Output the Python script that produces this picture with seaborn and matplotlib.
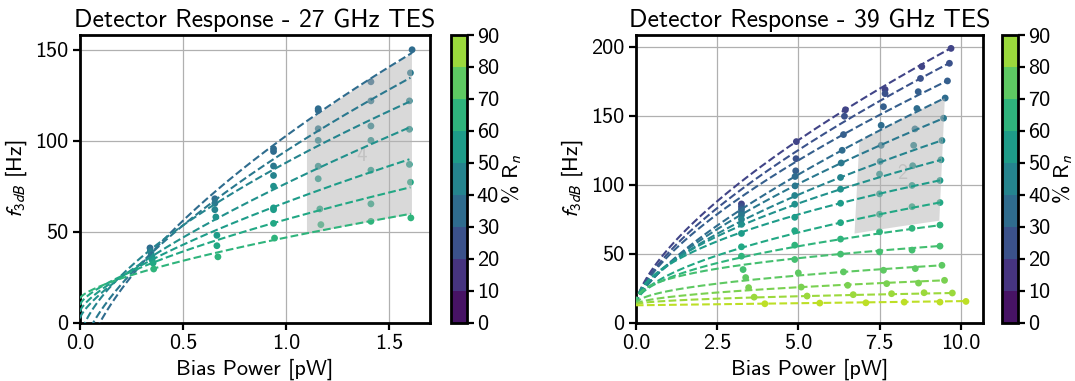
import numpy as np
import pandas as pd
import matplotlib
matplotlib.use("Agg")
import matplotlib.pyplot as plt
import seaborn as sns
from matplotlib.colors import ListedColormap, BoundaryNorm
from matplotlib.ticker import MultipleLocator
import matplotlib.cm as cm

# ------------------------------------------------------------------ data
# 27 GHz TES : %Rn levels, measured points, power-law fit parameters
rn_27 = [35, 40, 45, 50, 55, 60, 65]
p_27 = [
    [0.340, 0.655, 0.940, 0.940, 1.157, 1.157, 1.413, 1.613],
    [0.342, 0.655, 0.940, 1.157, 1.413, 1.605],
    [0.345, 0.655, 0.940, 1.157, 1.413, 1.600],
    [0.350, 0.660, 0.940, 1.157, 1.413, 1.600],
    [0.350, 0.665, 0.940, 0.940, 1.157, 1.413, 1.600],
    [0.355, 0.665, 0.940, 1.165, 1.413, 1.605],
    [0.358, 0.670, 0.945, 1.170, 1.413, 1.607],
]
f_27 = [
    [41.0, 68.0, 95.5, 94.0, 116.5, 117.5, 132.3, 149.9],
    [39.5, 65.5, 86.0, 106.5, 121.8, 137.2],
    [38.0, 62.0, 80.8, 100.1, 108.0, 121.8],
    [36.4, 58.0, 74.9, 85.9, 100.1, 106.2],
    [34.5, 47.9, 63.0, 62.0, 79.0, 83.7, 86.9],
    [32.7, 42.2, 54.5, 62.4, 65.2, 77.1],
    [29.4, 36.1, 46.4, 53.8, 55.6, 57.5],
]
fit_a_27 = [135.0, 114.0, 97.3, 74.1, 60.0, 47.0, 33.4]
fit_b_27 = [0.61, 0.64, 0.63, 0.739, 0.708, 0.676, 0.695]
fit_c_27 = [-32.5, -19.8, -9.5, 2.3, 6.0, 9.6, 13.3]
shade_27_range = [1.10, 1.61]          # bias power span of shaded region
shade_27_series = [0, 6]               # bounded by fits of these series
label_27 = ("4", 1.367, 92.0)

# 39 GHz TES
rn_39 = [20, 25, 30, 35, 40, 45, 50, 55, 60, 65, 70, 75, 80, 85, 90]
p_39 = [
    [3.25, 4.94, 6.45, 7.67, 8.80, 9.70],
    [3.25, 4.93, 6.42, 7.67, 8.76, 9.65],
    [3.25, 4.92, 6.39, 7.62, 8.69, 9.59],
    [3.25, 4.90, 6.35, 7.55, 8.65, 9.52],
    [3.25, 4.90, 6.32, 7.55, 8.59, 9.47],
    [3.25, 4.89, 6.30, 7.52, 8.55, 9.42],
    [3.25, 4.89, 6.30, 7.50, 8.52, 9.39],
    [3.25, 4.89, 6.30, 7.50, 8.50, 9.36],
    [3.25, 4.89, 6.30, 7.50, 8.50, 9.36],
    [3.25, 4.89, 6.30, 7.50, 8.50, 9.36],
    [3.30, 4.89, 6.30, 7.50, 8.50, 9.36],
    [3.38, 5.00, 6.39, 7.62, 8.60, 9.42],
    [3.47, 5.09, 6.52, 7.72, 8.70, 9.50],
    [3.64, 5.27, 6.69, 7.87, 8.87, 9.74],
    [3.97, 5.66, 7.08, 8.26, 9.36, 10.16],
]
f_39 = [
    [86.0, 131.2, 154.3, 169.0, 185.6, 198.8],
    [84.0, 118.8, 149.6, 166.0, 177.0, 188.0],
    [82.0, 110.0, 136.3, 156.5, 167.4, 175.2],
    [80.0, 105.9, 124.9, 143.0, 155.2, 162.8],
    [78.0, 99.1, 115.7, 128.5, 140.4, 148.2],
    [74.8, 92.1, 105.2, 116.8, 128.5, 132.0],
    [71.2, 85.8, 96.7, 107.6, 113.7, 118.0],
    [64.6, 76.3, 86.5, 93.3, 99.4, 103.0],
    [54.9, 66.6, 72.4, 78.5, 84.0, 87.0],
    [48.1, 56.1, 60.5, 65.8, 68.3, 70.7],
    [38.4, 45.7, 49.6, 51.2, 52.5, 55.4],
    [32.6, 36.0, 36.7, 37.9, 39.1, 41.5],
    [25.3, 25.7, 27.0, 28.2, 28.6, 30.6],
    [18.4, 19.2, 20.2, 20.9, 21.6, 21.4],
    [13.6, 14.1, 14.3, 14.8, 14.8, 15.3],
]
fit_a_39 = [40.5, 37.5, 35.3, 29.6, 29.3, 28.7, 29.4, 28.7, 21.4, 19.2, 18.5, 9.82, 5.42, 2.73, 0.30]
fit_b_39 = [0.671, 0.68, 0.675, 0.72, 0.68, 0.6345, 0.568, 0.5115, 0.555, 0.491, 0.372, 0.475, 0.523, 0.494, 1.0]
fit_c_39 = [13.0] * 14 + [12.5]
shade_39_top = [6.88, 9.51]            # span along the upper bounding fit
shade_39_bottom = [6.73, 9.34]         # span along the lower bounding fit
shade_39_series = [3, 9, 8]            # top fit, lower fit, neighbour fit
shade_39_blend = 0.2
label_39 = ("2", 8.21, 108.0)

cbar_levels = list(range(0, 100, 10))

# ------------------------------------------------------------------ style
sns.set_theme(style="whitegrid")
plt.rcParams.update({
    "font.family": ["cmss10", "DejaVu Sans"],
    "mathtext.fontset": "stixsans",
    "axes.unicode_minus": False,
    "axes.edgecolor": "black",
    "axes.linewidth": 2.0,
    "axes.facecolor": "white",
    "grid.color": "#b0b0b0",
    "grid.linewidth": 0.9,
    "xtick.bottom": True,
    "ytick.left": True,
    "xtick.direction": "out",
    "ytick.direction": "out",
    "xtick.major.size": 5,
    "ytick.major.size": 5,
    "xtick.major.width": 1.6,
    "ytick.major.width": 1.6,
    "xtick.color": "black",
    "ytick.color": "black",
    "xtick.labelsize": 16,
    "ytick.labelsize": 16,
    "axes.labelsize": 16,
    "axes.titlesize": 18.5,
    "text.color": "black",
    "axes.labelcolor": "black",
})

def power_fit(P, a, b, c):
    return c + a * np.power(P, b)

def build_frames(rn, ps, fs, fa, fb, fc):
    pts, fits = [], []
    for r, p, f, a, b, c in zip(rn, ps, fs, fa, fb, fc):
        pts.append(pd.DataFrame({"P": p, "f": f, "Rn": r}))
        grid = np.linspace(0.0, max(p), 300)
        fits.append(pd.DataFrame({"P": grid, "f": power_fit(grid, a, b, c), "Rn": r}))
    return pd.concat(pts, ignore_index=True), pd.concat(fits, ignore_index=True)

fig = plt.figure(figsize=(10.75, 3.81), dpi=100)
ax1 = fig.add_axes([0.0744, 0.1535, 0.3256, 0.7546])
cax1 = fig.add_axes([0.4195, 0.1535, 0.0149, 0.7546])
ax2 = fig.add_axes([0.5915, 0.1535, 0.3228, 0.7546])
cax2 = fig.add_axes([0.9325, 0.1535, 0.0149, 0.7546])

shade_kw = dict(color="#b5b5b5", alpha=0.5, lw=0, zorder=2.5)

def draw(ax, pts, fits):
    sns.scatterplot(data=pts, x="P", y="f", hue="Rn", palette="viridis",
                    hue_norm=(0, 100), s=24, linewidth=0, legend=False,
                    ax=ax, zorder=2)
    sns.lineplot(data=fits, x="P", y="f", hue="Rn", palette="viridis",
                 hue_norm=(0, 100), estimator=None, sort=False, legend=False,
                 linestyle="--", linewidth=1.5, ax=ax, zorder=3)

# ---- left panel
pts27, fits27 = build_frames(rn_27, p_27, f_27, fit_a_27, fit_b_27, fit_c_27)
draw(ax1, pts27, fits27)
g = np.linspace(shade_27_range[0], shade_27_range[1], 100)
i_t, i_b = shade_27_series
ax1.fill_between(g,
                 power_fit(g, fit_a_27[i_b], fit_b_27[i_b], fit_c_27[i_b]),
                 power_fit(g, fit_a_27[i_t], fit_b_27[i_t], fit_c_27[i_t]),
                 **shade_kw)
ax1.text(label_27[1], label_27[2], label_27[0], color="#c2c2c2", fontsize=15,
         ha="center", va="center", zorder=2.6)
ax1.set_xlim(0, 1.70)
ax1.set_ylim(0, 158)
ax1.xaxis.set_major_locator(MultipleLocator(0.5))
ax1.yaxis.set_major_locator(MultipleLocator(50))
ax1.set_xlabel("Bias Power [pW]")
ax1.set_ylabel(r"$f_{3dB}$ [Hz]")
ax1.set_title("Detector Response - 27 GHz TES")

# ---- right panel
pts39, fits39 = build_frames(rn_39, p_39, f_39, fit_a_39, fit_b_39, fit_c_39)
draw(ax2, pts39, fits39)
it, ib, inb = shade_39_series
gt = np.linspace(shade_39_top[0], shade_39_top[1], 100)
gb = np.linspace(shade_39_bottom[0], shade_39_bottom[1], 100)
top = power_fit(gt, fit_a_39[it], fit_b_39[it], fit_c_39[it])
bot = ((1 - shade_39_blend) * power_fit(gb, fit_a_39[ib], fit_b_39[ib], fit_c_39[ib])
       + shade_39_blend * power_fit(gb, fit_a_39[inb], fit_b_39[inb], fit_c_39[inb]))
ax2.fill(np.r_[gt, gb[::-1]], np.r_[top, bot[::-1]], **shade_kw)
ax2.text(label_39[1], label_39[2], label_39[0], color="#c2c2c2", fontsize=15,
         ha="center", va="center", zorder=2.6)
ax2.set_xlim(0, 10.68)
ax2.set_ylim(0, 208.5)
ax2.xaxis.set_major_locator(MultipleLocator(2.5))
ax2.yaxis.set_major_locator(MultipleLocator(50))
ax2.set_xlabel("Bias Power [pW]")
ax2.set_ylabel(r"$f_{3dB}$ [Hz]")
ax2.set_title("Detector Response - 39 GHz TES")

for ax in (ax1, ax2):
    ax.grid(True)
    ax.set_axisbelow(True)
    for s in ax.spines.values():
        s.set_visible(True)
        s.set_color("black")
        s.set_linewidth(2.0)

# ---- colorbars
vir = plt.get_cmap("viridis")
n_bins = len(cbar_levels) - 1
bin_centres = (np.array(cbar_levels[:-1]) + 5) / 100.0
cmap_bins = ListedColormap(vir(bin_centres))
norm_bins = BoundaryNorm(cbar_levels, n_bins)
for cax in (cax1, cax2):
    sm = cm.ScalarMappable(norm=norm_bins, cmap=cmap_bins)
    cb = fig.colorbar(sm, cax=cax, ticks=cbar_levels)
    cb.outline.set_linewidth(2.0)
    cb.outline.set_edgecolor("black")
    cb.ax.tick_params(labelsize=16, length=5, width=1.6, direction="out", pad=2)
    cb.set_label("% R$_n$", fontsize=16, labelpad=0)

fig.savefig("out.png", dpi=100)
